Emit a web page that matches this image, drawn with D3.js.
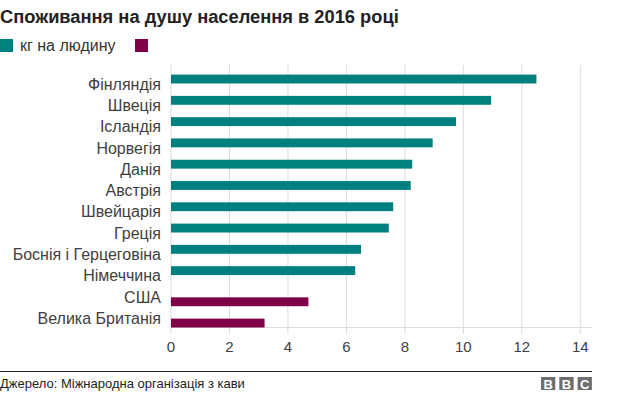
<!DOCTYPE html>
<html>
<head>
<meta charset="utf-8">
<script src="https://cdn.jsdelivr.net/npm/d3@7"></script>
<style>
  body { margin: 0; background: #fff; }
  svg text { font-family: "Liberation Sans", Arial, sans-serif; }
</style>
</head>
<body>
<script>
const countries = ['Фінляндія', 'Швеція', 'Ісландія', 'Норвегія', 'Данія', 'Австрія',
  'Швейцарія', 'Греція', 'Боснія і Герцеговіна', 'Німеччина', 'США', 'Велика Британія'];
const kgPerPerson = [12.5, 10.95, 9.75, 8.95, 8.25, 8.2, 7.6, 7.45, 6.5, 6.3, null, null];
const otherValues = [null, null, null, null, null, null, null, null, null, null, 4.7, 3.2];
const seriesNames = ['кг на людину', ''];
const xTicks = [0, 2, 4, 6, 8, 10, 12, 14];

const svgWidth = 624, svgHeight = 395;
const colors = ['#007f7f', '#7f0046'];

const svg = d3.select("body")
  .append("svg")
  .attr("width", svgWidth)
  .attr("height", svgHeight);

// Title
svg.append("text")
  .attr("x", 0).attr("y", 23)
  .attr("font-size", 18.3).attr("font-weight", "bold")
  .attr("fill", "#222")
  .text("Споживання на душу населення в 2016 році");

// Legend
const legend = svg.append("g").attr("transform", "translate(0,39)");
seriesNames.forEach((s, i) => {
  const g = legend.append("g").attr("transform", `translate(${i * 135},0)`);
  g.append("rect").attr("width", 13).attr("height", 13).attr("fill", colors[i]);
  g.append("text").attr("x", 20).attr("y", 12)
    .attr("font-size", 16).attr("fill", "#333").text(s);
});

// Scales
const x = d3.scaleLinear().domain([0, 14]).range([171, 580.3]);
const y0 = d3.scaleBand().domain(countries).range([74.6, 327.5]).paddingInner(0.12);
const y1 = d3.scaleBand().domain([0, 1]).range([0, y0.bandwidth()]).paddingInner(0.1);

// Gridlines
svg.append("g").selectAll("line")
  .data(xTicks)
  .enter().append("line")
  .attr("x1", d => x(d)).attr("x2", d => x(d))
  .attr("y1", 65).attr("y2", 334)
  .attr("stroke", "#dcdcdc").attr("stroke-width", 1);

// Axis baseline
svg.append("line")
  .attr("x1", x(0)).attr("x2", 592)
  .attr("y1", 327.5).attr("y2", 327.5)
  .attr("stroke", "#dcdcdc");

// Tick labels
svg.append("g").selectAll("text")
  .data(xTicks)
  .enter().append("text")
  .attr("x", d => x(d)).attr("y", 351.5)
  .attr("text-anchor", "middle")
  .attr("font-size", 15).attr("fill", "#404040")
  .text(d => d);

// Bars
const rows = countries.map((c, i) => ({ c, vals: [kgPerPerson[i], otherValues[i]] }));
const groups = svg.append("g").selectAll("g")
  .data(rows)
  .enter().append("g")
  .attr("transform", d => `translate(0,${y0(d.c)})`);

groups.selectAll("rect")
  .data(d => d.vals.map((v, k) => ({ v, k })).filter(e => e.v != null))
  .enter().append("rect")
  .attr("x", x(0))
  .attr("y", e => y1(e.k))
  .attr("width", e => x(e.v) - x(0))
  .attr("height", y1.bandwidth())
  .attr("fill", e => colors[e.k]);

// Country labels
svg.append("g").selectAll("text")
  .data(countries)
  .enter().append("text")
  .attr("x", 161)
  .attr("y", d => y0(d) + y0.bandwidth() / 2 + 5.7)
  .attr("text-anchor", "end")
  .attr("font-size", 16).attr("fill", "#404040")
  .text(d => d);

// Footer
svg.append("line")
  .attr("x1", 0).attr("x2", 592)
  .attr("y1", 371.5).attr("y2", 371.5)
  .attr("stroke", "#222").attr("stroke-width", 1);

svg.append("text")
  .attr("x", 0).attr("y", 388)
  .attr("font-size", 13).attr("fill", "#222")
  .text("Джерело: Міжнародна організація з кави");

const bbc = svg.append("g").attr("transform", "translate(541,377)");
["B", "B", "C"].forEach((l, i) => {
  bbc.append("rect").attr("x", i * 18.3).attr("width", 14.3).attr("height", 13)
    .attr("fill", "#6e6e6e");
  bbc.append("text").attr("x", i * 18.3 + 7.15).attr("y", 11.5)
    .attr("text-anchor", "middle").attr("font-size", 13).attr("font-weight", "bold")
    .attr("fill", "#fff").text(l);
});
</script>
</body>
</html>
